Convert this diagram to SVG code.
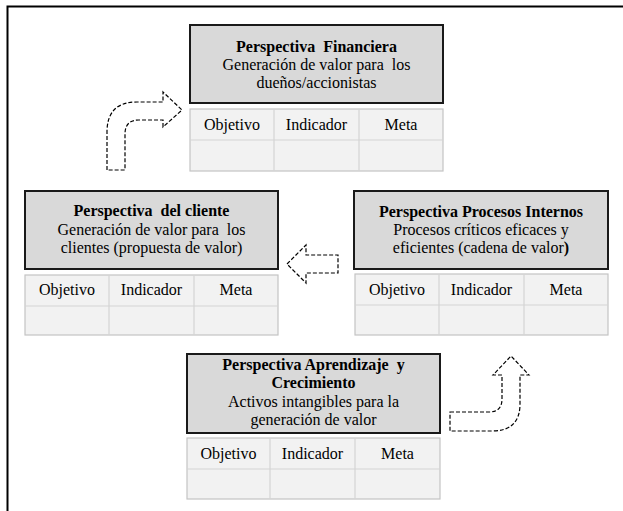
<svg xmlns="http://www.w3.org/2000/svg" width="623" height="511" viewBox="0 0 623 511">
<style>
.t{font-size:16px;fill:#000;text-anchor:middle}
.b{font-weight:bold}
.head{fill:#d9d9d9;stroke:#1a1a1a;stroke-width:2}
.tbl{fill:#f2f2f2;stroke:#c4c4c4;stroke-width:1.2}
.grid{stroke:#d4d4d4;stroke-width:1.2;fill:none}
.arr{fill:#fff;stroke:#000;stroke-width:1.2;stroke-dasharray:4 2;stroke-linejoin:miter}
.frame{stroke:#000;stroke-width:2;fill:none}
</style>
<rect width="623" height="511" fill="#fff"/>
<path class="frame" d="M7.5 511 V6.5 H623"/>
<g font-family="'Liberation Serif', 'DejaVu Serif', serif">
<g id="financiera">
<rect class="head" x="190" y="25" width="253" height="78"/>
<text class="t b" x="316.5" y="51.5" xml:space="preserve">Perspectiva  Financiera</text>
<text class="t" x="316.5" y="69.5" xml:space="preserve">Generación de valor para  los</text>
<text class="t" x="316.5" y="87.5">dueños/accionistas</text>
<rect class="tbl" x="190" y="109" width="253" height="62"/>
<path class="grid" d="M190 140 H443 M274 109 V171 M359 109 V171"/>
<text class="t" x="232" y="130">Objetivo</text>
<text class="t" x="316.5" y="130">Indicador</text>
<text class="t" x="401" y="130">Meta</text>
</g>

<g id="cliente">
<rect class="head" x="25" y="191" width="253" height="78"/>
<text class="t b" x="151.5" y="216" xml:space="preserve">Perspectiva  del cliente</text>
<text class="t" x="151.5" y="234.5" xml:space="preserve">Generación de valor para  los</text>
<text class="t" x="151.5" y="252.5">clientes (propuesta de valor)</text>
<rect class="tbl" x="25" y="275" width="253" height="60"/>
<path class="grid" d="M25 306 H278 M109 275 V335 M194 275 V335"/>
<text class="t" x="67" y="295">Objetivo</text>
<text class="t" x="151.5" y="295">Indicador</text>
<text class="t" x="236" y="295">Meta</text>
</g>

<g id="procesos">
<rect class="head" x="354" y="191" width="254" height="78"/>
<text class="t b" x="481" y="216.5">Perspectiva Procesos Internos</text>
<text class="t" x="481" y="235">Procesos críticos eficaces y</text>
<text class="t" x="481" y="253">eficientes (cadena de valor<tspan class="b">)</tspan></text>
<rect class="tbl" x="355" y="274" width="253" height="61"/>
<path class="grid" d="M355 305 H608 M439 274 V335 M524 274 V335"/>
<text class="t" x="397" y="295">Objetivo</text>
<text class="t" x="481.5" y="295">Indicador</text>
<text class="t" x="566" y="295">Meta</text>
</g>

<g id="aprendizaje">
<rect class="head" x="187" y="354" width="253" height="79"/>
<text class="t b" x="313.5" y="369.5" xml:space="preserve">Perspectiva Aprendizaje  y</text>
<text class="t b" x="313.5" y="388">Crecimiento</text>
<text class="t" x="313.5" y="406.5">Activos intangibles para la</text>
<text class="t" x="313.5" y="425">generación de valor</text>
<rect class="tbl" x="187" y="438" width="253" height="61"/>
<path class="grid" d="M187 469 H440 M270 438 V499 M355 438 V499"/>
<text class="t" x="228.5" y="459">Objetivo</text>
<text class="t" x="312.5" y="459">Indicador</text>
<text class="t" x="397.5" y="459">Meta</text>
</g>
</g>
<g id="connectors">
<path class="arr" d="M107 170 L107 132 Q107 102 137 102 L163 102 L163 92 L182 110 L163 127 L163 120 L139 120 Q125 120 125 134 L125 170 Z"/>
<path class="arr" d="M287 264 L306 245 L306 255 L338 255 L338 273 L306 273 L306 283 Z"/>
<path class="arr" d="M450 412 L489 412 Q502 412 502 399 L502 375 L493 375 L511 356 L529 375 L520 375 L520 404 Q520 431 492 431 L450 431 Z"/>
</g>
</svg>
